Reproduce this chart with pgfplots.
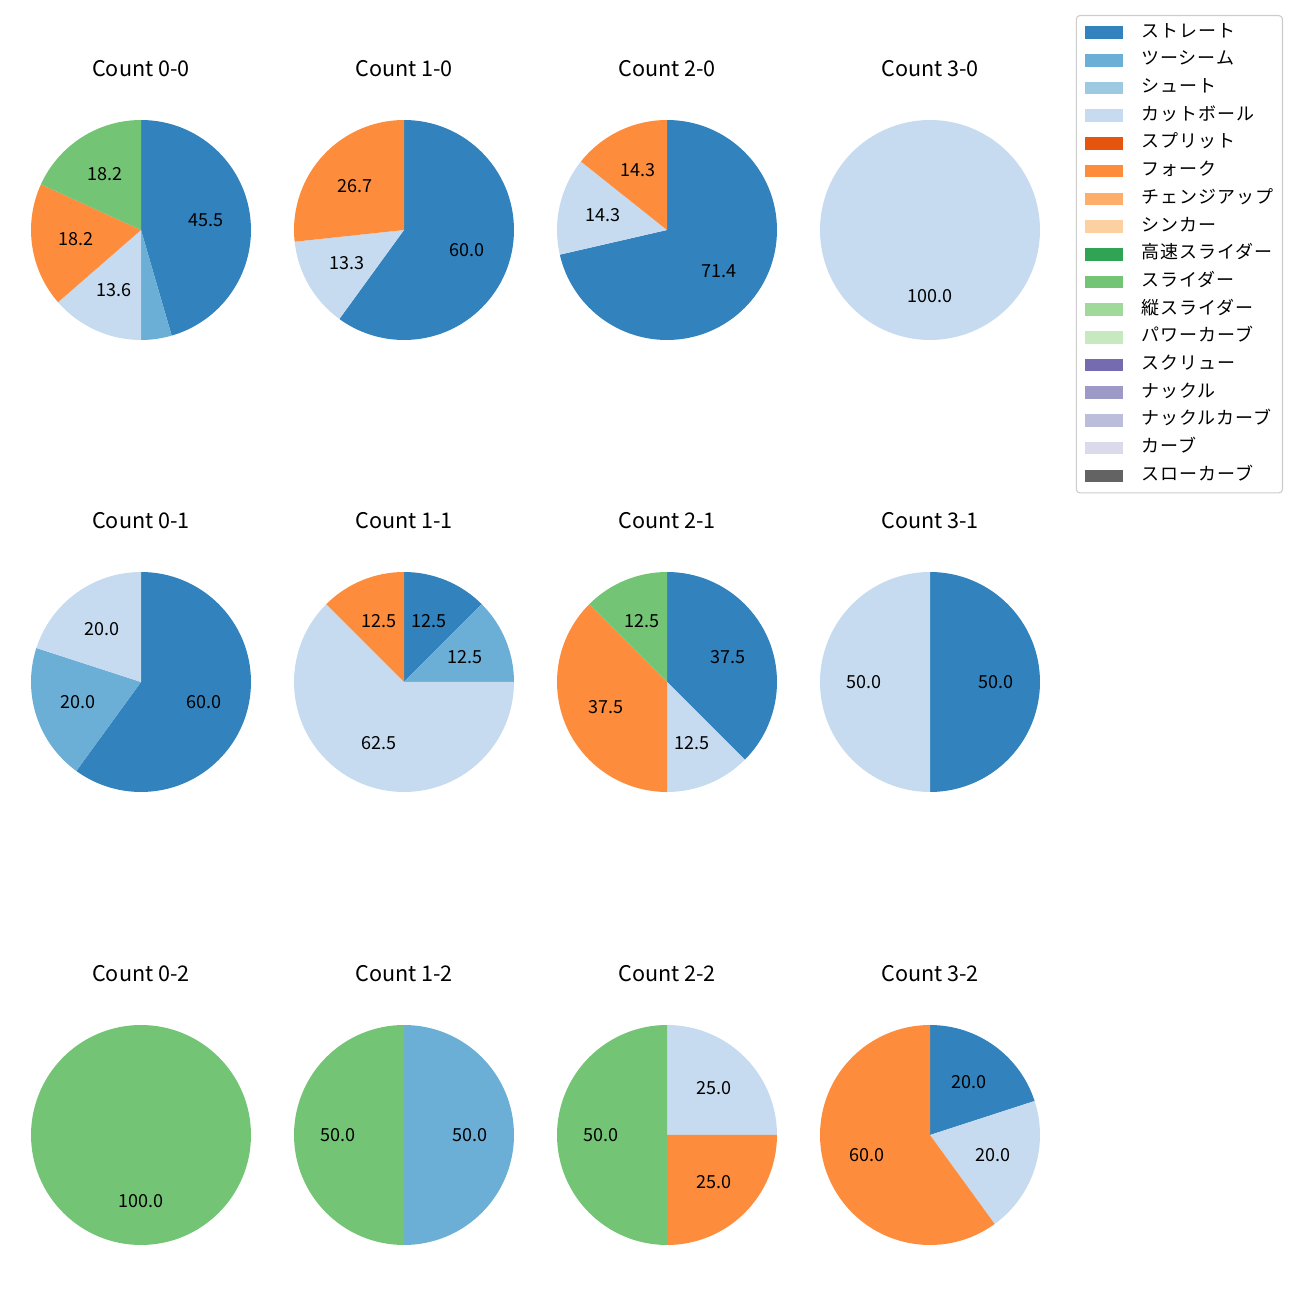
\documentclass[border=0pt]{standalone}
\usepackage{pgfplots}
\pgfplotsset{compat=1.18}
\usepackage{fontspec}
\setmainfont{Noto Sans CJK JP}
\newfontfamily\legfont[LetterSpace=6]{Noto Sans CJK JP}
\usetikzlibrary{calc}
\definecolor{c1}{HTML}{3182BD}
\definecolor{c2}{HTML}{6BAED6}
\definecolor{c3}{HTML}{9ECAE1}
\definecolor{c4}{HTML}{C6DBEF}
\definecolor{c5}{HTML}{E6550D}
\definecolor{c6}{HTML}{FD8D3C}
\definecolor{c7}{HTML}{FDAE6B}
\definecolor{c8}{HTML}{FDD0A2}
\definecolor{c9}{HTML}{31A354}
\definecolor{c10}{HTML}{74C476}
\definecolor{c11}{HTML}{A1D99B}
\definecolor{c12}{HTML}{C7E9C0}
\definecolor{c13}{HTML}{756BB1}
\definecolor{c14}{HTML}{9E9AC8}
\definecolor{c15}{HTML}{BCBDDC}
\definecolor{c16}{HTML}{DADAEB}
\definecolor{c17}{HTML}{636363}
\def\U{0.195385mm}
\def\R{21.49mm}
\def\Rl{12.894mm}
\newcommand{\lblfont}{\fontsize{10}{12}\selectfont}
\newcommand{\ttlfont}{\fontsize{12}{14}\selectfont}
% pie: #1 cx, #2 cy (pixels from top), #3 title, #4 list value/colour
\newcommand{\pie}[4]{%
  \edef\tmp{\noexpand\node[font=\noexpand\ttlfont] at (axis cs:#1,-\the\numexpr#2-161\relax) {#3};}\tmp
  \gdef\cum{0}%
  \foreach \v/\c in {#4}{%
    \pgfmathsetmacro{\aa}{90-3.6*\cum}%
    \pgfmathsetmacro{\ab}{90-3.6*(\cum+\v)}%
    \edef\tmp{\noexpand\fill[\c] (axis cs:#1,-#2) -- ++(\aa:\R) arc[start angle=\aa, end angle=\ab, radius=\R] -- cycle;}\tmp
    \pgfmathsetmacro{\newcum}{\cum+\v}\xdef\cum{\newcum}%
  }%
  \gdef\cum{0}%
  \foreach \v/\c in {#4}{%
    \pgfmathsetmacro{\aa}{90-3.6*\cum}%
    \pgfmathsetmacro{\ab}{90-3.6*(\cum+\v)}%
    \pgfmathsetmacro{\am}{(\aa+\ab)/2}%
    \pgfmathparse{\v>=5?1:0}%
    \ifnum\pgfmathresult=1
      \edef\tmp{\noexpand\node[font=\noexpand\lblfont, inner sep=0pt] at ([shift={(\am:\Rl)}]axis cs:#1,-#2) {\v};}\tmp
    \fi
    \pgfmathsetmacro{\newcum}{\cum+\v}\xdef\cum{\newcum}%
  }%
}
\begin{document}
\begin{tikzpicture}
\begin{axis}[
  hide axis, clip=false,
  x=\U, y=\U,
  xmin=0, xmax=1300, ymin=-1300, ymax=0,
  legend image code/.code={\fill[#1, draw=none, sharp corners] (0pt,-3.5pt) rectangle (21pt,3.5pt);},
  legend cell align=left,
  legend style={
    at={(0.98692,0.98846)}, anchor=north east,
    draw=black!20, rounded corners=2pt, line width=0.6pt,
    font=\lblfont\legfont,
    nodes={inner sep=0pt, text height=7.5pt, text depth=2.5pt},
    row sep=5.4pt,
    /tikz/every odd column/.append style={column sep=10pt},
    inner xsep=5pt, inner ysep=4.5pt,
  },
]
\path (axis cs:0,0) (axis cs:1300,-1300);
\addlegendimage{fill=c1}\addlegendentry{ストレート}
\addlegendimage{fill=c2}\addlegendentry{ツーシーム}
\addlegendimage{fill=c3}\addlegendentry{シュート}
\addlegendimage{fill=c4}\addlegendentry{カットボール}
\addlegendimage{fill=c5}\addlegendentry{スプリット}
\addlegendimage{fill=c6}\addlegendentry{フォーク}
\addlegendimage{fill=c7}\addlegendentry{チェンジアップ}
\addlegendimage{fill=c8}\addlegendentry{シンカー}
\addlegendimage{fill=c9}\addlegendentry{高速スライダー}
\addlegendimage{fill=c10}\addlegendentry{スライダー}
\addlegendimage{fill=c11}\addlegendentry{縦スライダー}
\addlegendimage{fill=c12}\addlegendentry{パワーカーブ}
\addlegendimage{fill=c13}\addlegendentry{スクリュー}
\addlegendimage{fill=c14}\addlegendentry{ナックル}
\addlegendimage{fill=c15}\addlegendentry{ナックルカーブ}
\addlegendimage{fill=c16}\addlegendentry{カーブ}
\addlegendimage{fill=c17}\addlegendentry{スローカーブ}
% row 1
\pie{141}{230}{Count 0-0}{45.5/c1, 4.5/c2, 13.6/c4, 18.2/c6, 18.2/c10}
\pie{404}{230}{Count 1-0}{60.0/c1, 13.3/c4, 26.7/c6}
\pie{667}{230}{Count 2-0}{71.4/c1, 14.3/c4, 14.3/c6}
\pie{930}{230}{Count 3-0}{100.0/c4}
% row 2
\pie{141}{682}{Count 0-1}{60.0/c1, 20.0/c2, 20.0/c4}
\pie{404}{682}{Count 1-1}{12.5/c1, 12.5/c2, 62.5/c4, 12.5/c6}
\pie{667}{682}{Count 2-1}{37.5/c1, 12.5/c4, 37.5/c6, 12.5/c10}
\pie{930}{682}{Count 3-1}{50.0/c1, 50.0/c4}
% row 3
\pie{141}{1135}{Count 0-2}{100.0/c10}
\pie{404}{1135}{Count 1-2}{50.0/c2, 50.0/c10}
\pie{667}{1135}{Count 2-2}{25.0/c4, 25.0/c6, 50.0/c10}
\pie{930}{1135}{Count 3-2}{20.0/c1, 20.0/c4, 60.0/c6}
\end{axis}
\end{tikzpicture}
\end{document}
